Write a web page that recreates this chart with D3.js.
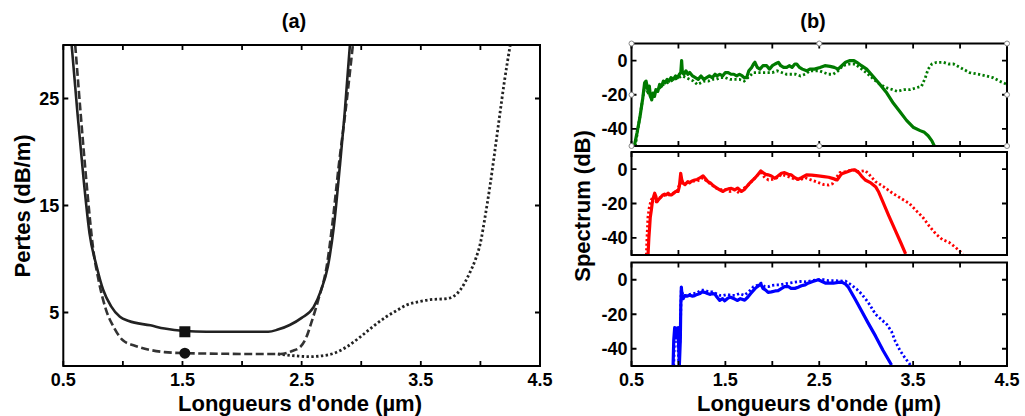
<!DOCTYPE html>
<html><head><meta charset="utf-8">
<script src="https://cdn.jsdelivr.net/npm/d3@7"></script>
<style>
body{margin:0;background:#fff;}
svg{display:block;}
text{font-family:"Liberation Sans",Arial,sans-serif;font-weight:bold;fill:#000;}
</style></head>
<body>
<svg id="c" width="1025" height="416"></svg>
<script>
// ---------- Panel (a) data: losses (dB/m) vs wavelength (µm)
const lossSolid = [[0.57,30],[0.62,23.5],[0.67,17.5],[0.72,12.4],[0.78,9.3],[0.835,7.1],[0.9,5.6],[0.975,4.6],[1.05,4.2],[1.23,3.8],[1.35,3.5],[1.52,3.27],[1.7,3.2],[2.0,3.2],[2.22,3.2],[2.3,3.4],[2.4,3.83],[2.5,4.5],[2.6,5.5],[2.66,7],[2.72,9.3],[2.77,13],[2.82,18.6],[2.86,23.5],[2.905,30]];
const lossDashed = [[0.60,30],[0.65,23],[0.70,16.5],[0.75,11],[0.80,7.8],[0.86,5.2],[0.93,3.5],[1.0,2.4],[1.1,1.9],[1.23,1.5],[1.35,1.3],[1.52,1.2],[1.8,1.15],[2.1,1.12],[2.32,1.12],[2.42,1.4],[2.49,1.8],[2.54,2.7],[2.58,4.0],[2.64,6.2],[2.71,9.3],[2.76,13.5],[2.81,18.6],[2.87,24],[2.93,30]];
const lossDotted = [[2.3,1.12],[2.45,0.95],[2.57,0.87],[2.67,0.95],[2.77,1.18],[2.88,1.8],[2.99,2.7],[3.1,3.7],[3.21,4.6],[3.3,5.2],[3.38,5.7],[3.48,6.0],[3.58,6.2],[3.72,6.3],[3.83,7.1],[3.91,8.7],[3.96,10],[4.0,11.5],[4.04,14],[4.08,16.8],[4.12,20],[4.16,23.3],[4.2,26.5],[4.25,30]];
const markerSquare = [1.52, 3.2];
const markerCircle = [1.52, 1.2];
const lossXTicks = [0.5,1.5,2.5,3.5,4.5];
const lossXMinor = [0.5,1,1.5,2,2.5,3,3.5,4,4.5];
const lossYTicks = [5,15,25];

// ---------- Panel (b) data: spectra (dB)
const greenSolid = [[0.53,-50],[0.56,-42],[0.59,-33],[0.62,-22],[0.64,-13],[0.655,-12],[0.67,-16],[0.68,-19],[0.69,-15],[0.70,-20],[0.715,-23],[0.73,-19],[0.745,-21],[0.76,-17],[0.78,-18],[0.80,-14],[0.82,-15],[0.84,-12],[0.86,-13],[0.88,-11],[0.90,-12],[0.92,-10],[0.945,-11],[0.97,-9],[0.99,-10],[1.01,-8],[1.025,-7],[1.034,0],[1.042,-7],[1.06,-8],[1.08,-6],[1.10,-8],[1.12,-7],[1.15,-9],[1.18,-10],[1.21,-11],[1.24,-9],[1.27,-11],[1.30,-10],[1.33,-9],[1.36,-10],[1.39,-8],[1.41,-9],[1.44,-8],[1.47,-9],[1.50,-7],[1.53,-7],[1.56,-8],[1.59,-8],[1.62,-9],[1.65,-8],[1.68,-9],[1.70,-10],[1.726,-10],[1.75,-6],[1.78,-4],[1.80,-2],[1.815,-1],[1.84,-4],[1.868,-5],[1.90,-3],[1.94,-3],[1.97,-5],[2.00,-3],[2.03,-2],[2.064,-1],[2.09,-3],[2.12,-4],[2.153,-4],[2.18,-3],[2.21,-4],[2.24,-2],[2.26,-2],[2.29,-4],[2.32,-5],[2.366,-6],[2.40,-5],[2.45,-5],[2.508,-4],[2.56,-3],[2.615,-3.4],[2.66,-4],[2.70,-5],[2.74,-3],[2.78,-1],[2.828,0],[2.87,0],[2.90,-1],[2.95,-3],[3.005,-5],[3.07,-9],[3.147,-14],[3.22,-19],[3.29,-25],[3.36,-30],[3.43,-35],[3.50,-39],[3.575,-41],[3.62,-42],[3.66,-44],[3.70,-47],[3.735,-51]];
const greenDotted = [[0.54,-50],[0.58,-36],[0.62,-22],[0.645,-14],[0.67,-18],[0.70,-21],[0.73,-20],[0.76,-18],[0.80,-16],[0.84,-14],[0.88,-13],[0.92,-12],[0.96,-11],[1.00,-10],[1.04,-9],[1.08,-10],[1.12,-11],[1.16,-12],[1.20,-14],[1.24,-13],[1.28,-12],[1.32,-12],[1.36,-11],[1.40,-11],[1.45,-10],[1.50,-10],[1.55,-11],[1.60,-11],[1.65,-11],[1.70,-12],[1.74,-10],[1.78,-8],[1.80,-7],[1.85,-7],[1.90,-7],[1.95,-7],[2.00,-7],[2.05,-6],[2.10,-7],[2.15,-8],[2.20,-8],[2.25,-8],[2.30,-9],[2.35,-8],[2.40,-6],[2.45,-6],[2.50,-6],[2.55,-7],[2.60,-8],[2.65,-8],[2.70,-6],[2.75,-3],[2.83,-2],[2.88,-2],[2.93,-4],[3.00,-7],[3.08,-11],[3.15,-14],[3.22,-16],[3.28,-17],[3.33,-18],[3.40,-17],[3.47,-17],[3.53,-16],[3.59,-15],[3.63,-10],[3.66,-5],[3.70,-2],[3.75,-1],[3.82,-1],[3.88,-2],[3.93,-2],[4.00,-4],[4.10,-7],[4.20,-8],[4.28,-9],[4.35,-10],[4.42,-12],[4.5,-14]];
const redSolid = [[0.676,-50],[0.685,-40],[0.694,-33],[0.70,-28],[0.711,-24],[0.72,-20],[0.73,-17],[0.747,-14],[0.76,-16],[0.77,-19],[0.782,-18],[0.80,-17],[0.818,-16],[0.835,-15],[0.853,-14.5],[0.87,-15],[0.89,-14],[0.91,-15],[0.925,-15],[0.95,-14],[0.97,-13],[0.996,-13],[1.01,-10],[1.024,-2.4],[1.035,-6],[1.049,-8.2],[1.07,-9],[1.10,-7.3],[1.12,-8],[1.14,-7],[1.173,-6.3],[1.20,-6],[1.23,-5],[1.262,-3.9],[1.28,-5],[1.315,-7.3],[1.34,-8],[1.36,-9],[1.386,-10.2],[1.41,-11],[1.44,-12],[1.475,-13],[1.50,-12],[1.53,-11.5],[1.564,-11.2],[1.60,-12],[1.63,-11],[1.671,-13],[1.70,-12],[1.742,-9.2],[1.78,-7],[1.813,-5.3],[1.85,-3],[1.877,-1],[1.90,-2],[1.93,-3],[1.955,-3.3],[1.99,-4],[2.026,-5.3],[2.06,-4],[2.097,-2.4],[2.13,-2],[2.17,-3],[2.20,-3.3],[2.24,-5],[2.275,-5.9],[2.31,-5],[2.364,-3.3],[2.42,-3.5],[2.49,-3.9],[2.55,-4.3],[2.60,-4.7],[2.65,-5.5],[2.69,-6.3],[2.72,-4],[2.74,-2.7],[2.80,-1.5],[2.85,-0.5],[2.88,-0.4],[2.92,-2],[2.95,-4],[2.99,-6.3],[3.05,-8],[3.10,-10.2],[3.13,-13],[3.17,-18],[3.24,-27],[3.31,-35.7],[3.37,-43],[3.42,-49.4]];
const redDotted = [[0.658,-50],[0.665,-40],[0.675,-28],[0.69,-22],[0.71,-18],[0.73,-16],[0.75,-17],[0.77,-20],[0.79,-17],[0.82,-16],[0.86,-15],[0.90,-15],[0.94,-14],[0.98,-13],[1.02,-8],[1.05,-9],[1.10,-8],[1.15,-7],[1.20,-7],[1.26,-5],[1.30,-7],[1.35,-9],[1.40,-11],[1.45,-12],[1.50,-12],[1.55,-13],[1.60,-12],[1.65,-14],[1.70,-11],[1.75,-9],[1.80,-6],[1.85,-3],[1.88,-2],[1.92,-5],[1.96,-6.3],[2.00,-6],[2.05,-5],[2.10,-3],[2.15,-4],[2.20,-5],[2.25,-6],[2.30,-6],[2.35,-5],[2.40,-6],[2.45,-7],[2.50,-8],[2.55,-9],[2.60,-9.2],[2.64,-8.5],[2.68,-5],[2.72,-2],[2.78,-1.4],[2.84,-0.5],[2.88,-0.6],[2.92,-1.4],[2.99,-0.8],[3.03,-3],[3.10,-7.3],[3.18,-10],[3.28,-14],[3.37,-17],[3.46,-20],[3.53,-24],[3.60,-27.8],[3.67,-33],[3.74,-37.6],[3.81,-41],[3.88,-42.5],[3.95,-45.5],[4.03,-49.4]];
const blueSolid = [[0.943,-50],[0.95,-35],[0.96,-27.8],[0.97,-30],[0.978,-33.7],[0.985,-28],[0.996,-27.8],[1.003,-40],[1.01,-49.4],[1.02,-35],[1.025,-15],[1.031,-4.3],[1.038,-9],[1.05,-11],[1.067,-9.2],[1.09,-9.5],[1.12,-9],[1.15,-9.5],[1.173,-9.2],[1.20,-8.5],[1.23,-8],[1.25,-7],[1.28,-7.3],[1.31,-8],[1.34,-8.5],[1.36,-8],[1.386,-8.2],[1.41,-10],[1.44,-12],[1.47,-11],[1.493,-12.2],[1.52,-11],[1.55,-10],[1.60,-11.2],[1.63,-12],[1.66,-11],[1.706,-11.8],[1.74,-10],[1.77,-8],[1.813,-5.3],[1.84,-4],[1.877,-2.4],[1.90,-5],[1.93,-6],[1.955,-7.3],[1.99,-7],[2.03,-6.5],[2.062,-6.3],[2.10,-5],[2.13,-4],[2.17,-3.9],[2.20,-5],[2.24,-5],[2.275,-4.3],[2.31,-3.5],[2.35,-3],[2.38,-2],[2.43,-1],[2.49,0],[2.53,-1],[2.57,-2],[2.60,-2],[2.65,-2],[2.70,-1.5],[2.74,-1.4],[2.78,-2.5],[2.81,-4.3],[2.88,-11],[2.95,-18],[3.02,-25],[3.10,-32.7],[3.18,-41],[3.27,-49.4]];
const blueDotted = [[0.95,-50],[0.96,-30],[0.985,-30],[1.005,-48],[1.02,-30],[1.03,-6],[1.05,-9],[1.08,-9],[1.12,-8.5],[1.16,-8],[1.20,-7.5],[1.24,-6],[1.28,-6],[1.32,-7],[1.36,-7],[1.40,-8],[1.44,-9],[1.48,-9],[1.52,-8.5],[1.56,-9],[1.60,-9],[1.65,-8],[1.70,-9],[1.75,-7],[1.80,-4],[1.85,-3],[1.88,-2],[1.92,-4],[1.96,-4],[1.99,-3.3],[2.04,-3],[2.08,-3],[2.12,-2.5],[2.17,-2],[2.24,-1.4],[2.30,-1],[2.36,-1.2],[2.42,-0.5],[2.49,0],[2.55,0],[2.60,-0.5],[2.66,-0.5],[2.72,-0.7],[2.78,-0.8],[2.84,-3],[2.90,-5.5],[2.95,-8.2],[3.02,-13],[3.10,-20],[3.16,-23],[3.22,-25.9],[3.27,-30],[3.31,-35.7],[3.36,-41],[3.41,-45],[3.47,-49.4]];
const specXTicks = [0.5,1.5,2.5,3.5,4.5];
const specXMinor = [0.5,1,1.5,2,2.5,3,3.5,4,4.5];
const specYTicks = [0,-20,-40];
const specColors = ["#007a00","#ff0000","#0000ff"];

const svg = d3.select("#c");
const FS_TICK = 18, FS_LAB = 22;
const TICK_Y = 386, LAB_Y = 411;

// ================= Panel (a)
const A = {l:63.3, r:540, t:45, b:366};
const xa = d3.scaleLinear().domain([0.5,4.5]).range([A.l,A.r]);
const ya = d3.scaleLinear().domain([0,30]).range([A.b,A.t]);
svg.append("clipPath").attr("id","clipA").append("rect")
  .attr("x",A.l).attr("y",A.t).attr("width",A.r-A.l).attr("height",A.b-A.t);
const gA = svg.append("g");
const lineA = d3.line().x(d=>xa(d[0])).y(d=>ya(d[1])).curve(d3.curveMonotoneX);
const plotA = gA.append("g").attr("clip-path","url(#clipA)");
plotA.append("path").datum(lossDotted).attr("d",lineA).attr("fill","none")
  .attr("stroke","#222").attr("stroke-width",2.8).attr("stroke-dasharray","2.4,2.4");
plotA.append("path").datum(lossDashed).attr("d",lineA).attr("fill","none")
  .attr("stroke","#333").attr("stroke-width",2.6).attr("stroke-dasharray","8,3.5");
plotA.append("path").datum(lossSolid).attr("d",lineA).attr("fill","none")
  .attr("stroke","#222").attr("stroke-width",2.6);
plotA.append("rect").attr("x",xa(markerSquare[0])-5.5).attr("y",ya(markerSquare[1])-5.5)
  .attr("width",11).attr("height",11).attr("fill","#111");
plotA.append("circle").attr("cx",xa(markerCircle[0])).attr("cy",ya(markerCircle[1]))
  .attr("r",5.5).attr("fill","#111");

function frame(g, x0,x1,y0,y1){
  g.append("rect").attr("x",x0).attr("y",y0).attr("width",x1-x0).attr("height",y1-y0)
   .attr("fill","none").attr("stroke","#000").attr("stroke-width",2);
}
const tickLen = 5;
gA.selectAll(".xt").data(lossXMinor).enter().append("path")
  .attr("d",d=>`M${xa(d)},${A.b}v${-tickLen}M${xa(d)},${A.t}v${tickLen}`)
  .attr("stroke","#000").attr("stroke-width",1.8);
gA.selectAll(".yt").data(lossYTicks).enter().append("path")
  .attr("d",d=>`M${A.l},${ya(d)}h${tickLen}M${A.r},${ya(d)}h${-tickLen}`)
  .attr("stroke","#000").attr("stroke-width",1.8);
frame(gA, A.l,A.r,A.t,A.b);
gA.selectAll(".xl").data(lossXTicks).enter().append("text")
  .attr("x",d=>xa(d)).attr("y",TICK_Y).attr("text-anchor","middle")
  .attr("font-size",FS_TICK).text(d=>d.toFixed(1));
gA.selectAll(".yl").data(lossYTicks).enter().append("text")
  .attr("x",A.l-4).attr("y",d=>ya(d)+6.5).attr("text-anchor","end")
  .attr("font-size",FS_TICK).text(d=>d);
svg.append("text").attr("x",294).attr("y",28).attr("text-anchor","middle")
  .attr("font-size",20).text("(a)");
svg.append("text").attr("x",300).attr("y",LAB_Y).attr("text-anchor","middle")
  .attr("font-size",FS_LAB).text("Longueurs d'onde (µm)");
svg.append("text").attr("transform","translate(30,206) rotate(-90)").attr("text-anchor","middle")
  .attr("font-size",FS_LAB).text("Pertes (dB/m)");

// ================= Panel (b)
const B = {l:631.5, r:1007};
const subs = [{t:43.5,b:146},{t:152,b:255},{t:262.5,b:366}];
const xb = d3.scaleLinear().domain([0.5,4.5]).range([B.l,B.r]);
const series = [[greenSolid,greenDotted],[redSolid,redDotted],[blueSolid,blueDotted]];
subs.forEach((s,i)=>{
  const yb = d3.scaleLinear().domain([-50,10]).range([s.b,s.t]);
  const g = svg.append("g");
  const cid = "clipB"+i;
  svg.append("clipPath").attr("id",cid).append("rect")
    .attr("x",B.l).attr("y",s.t).attr("width",B.r-B.l).attr("height",s.b-s.t);
  const pl = g.append("g").attr("clip-path",`url(#${cid})`);
  const ln = d3.line().x(d=>xb(d[0])).y(d=>yb(d[1]));
  pl.append("path").datum(series[i][1]).attr("d",ln).attr("fill","none")
    .attr("stroke",specColors[i]).attr("stroke-width",2.8).attr("stroke-dasharray","2.2,2.4");
  pl.append("path").datum(series[i][0]).attr("d",ln).attr("fill","none")
    .attr("stroke",specColors[i]).attr("stroke-width",3.2).attr("stroke-linejoin","round");
  g.selectAll(".xt").data(specXMinor).enter().append("path")
    .attr("d",d=>`M${xb(d)},${s.b}v${-tickLen}M${xb(d)},${s.t}v${tickLen}`)
    .attr("stroke","#000").attr("stroke-width",1.8);
  g.selectAll(".yt").data(specYTicks).enter().append("path")
    .attr("d",d=>`M${B.l},${yb(d)}h${tickLen}M${B.r},${yb(d)}h${-tickLen}`)
    .attr("stroke","#000").attr("stroke-width",1.8);
  frame(g, B.l,B.r,s.t,s.b);
  g.selectAll(".yl").data(specYTicks).enter().append("text")
    .attr("x",B.l-4).attr("y",d=>yb(d)+6.5).attr("text-anchor","end")
    .attr("font-size",FS_TICK).text(d=>d);
  if(i===0){
    const hx=[B.l,(B.l+B.r)/2,B.r], hy=[s.t,(s.t+s.b)/2,s.b];
    const handles=[];
    hx.forEach((x,a)=>hy.forEach((y,b)=>{ if(!(a===1&&b===1)) handles.push([x,y]); }));
    g.selectAll(".h").data(handles).enter().append("circle")
      .attr("cx",d=>d[0]).attr("cy",d=>d[1]).attr("r",2.5)
      .attr("fill","#fff").attr("stroke","#888").attr("stroke-width",1);
  }
  if(i===2){
    g.selectAll(".xl").data(specXTicks).enter().append("text")
      .attr("x",d=>xb(d)).attr("y",TICK_Y).attr("text-anchor","middle")
      .attr("font-size",FS_TICK).text(d=>d.toFixed(1));
  }
});
svg.append("text").attr("x",813).attr("y",28).attr("text-anchor","middle")
  .attr("font-size",20).text("(b)");
svg.append("text").attr("x",819).attr("y",LAB_Y).attr("text-anchor","middle")
  .attr("font-size",FS_LAB).text("Longueurs d'onde (µm)");
svg.append("text").attr("transform","translate(590,206) rotate(-90)").attr("text-anchor","middle")
  .attr("font-size",FS_LAB).text("Spectrum (dB)");
</script>
</body></html>
